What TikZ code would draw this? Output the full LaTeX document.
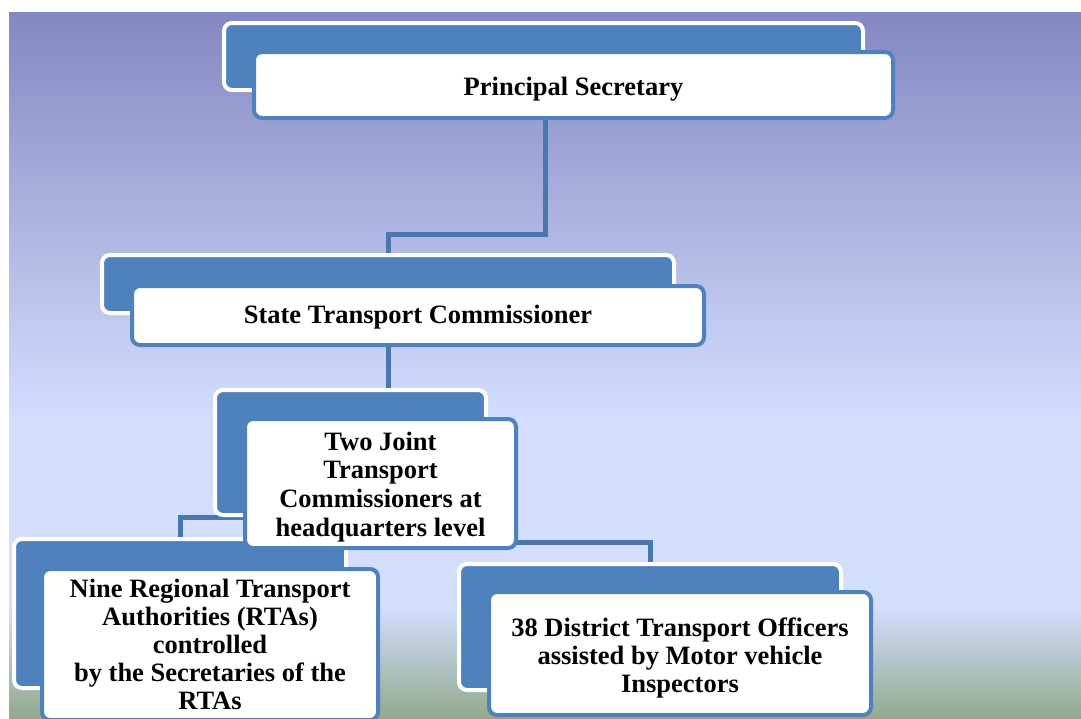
\documentclass[tikz,border=0pt]{standalone}
\usepackage{fontspec}
\setmainfont{Liberation Serif}
\definecolor{bgT}{RGB}{133,135,194}
\definecolor{bgL}{RGB}{211,222,253}
\definecolor{bgB}{RGB}{147,169,142}
\definecolor{boxblue}{RGB}{79,129,189}
\definecolor{conn}{RGB}{74,119,174}
\pgfdeclareverticalshading{bgshade}{100bp}{color(0bp)=(bgB); color(25bp)=(bgB); color(32.9bp)=(bgL); color(46.1bp)=(bgL); color(75bp)=(bgT); color(100bp)=(bgT)}
\pgfdeclarelayer{bglayer}
\pgfdeclarelayer{connlayer}
\pgfsetlayers{bglayer,connlayer,main}
\tikzset{
  backbox/.style={fill=boxblue, draw=white, line width=4pt, rounded corners=8pt, inner sep=0pt},
  frontbox/.style={fill=white, draw=boxblue, line width=4pt, rounded corners=8pt, inner sep=0pt},
  boxtext/.style={inner sep=0pt, align=center, font=\fontsize{26.5}{28}\selectfont\bfseries},
  connector/.style={draw=conn, line width=5pt}
}
\begin{document}
\begin{tikzpicture}[x=1pt,y=-1pt]
\useasboundingbox (0,0) rectangle (1081,718);
\begin{pgfonlayer}{bglayer}
\shade[shading=bgshade] (9,12) rectangle (1081,718);
\end{pgfonlayer}
% back boxes
\node[backbox, minimum width=639pt, minimum height=67pt] (b1back) at (543.5,56.5) {};
\node[backbox, minimum width=572pt, minimum height=58pt] (b2back) at (388,284) {};
\node[backbox, minimum width=271pt, minimum height=125pt] (b3back) at (350.5,452.5) {};
\node[backbox, minimum width=332pt, minimum height=149pt] (b4back) at (180,613.5) {};
\node[backbox, minimum width=382pt, minimum height=126pt] (b5back) at (650,627) {};
% front boxes
\node[frontbox, minimum width=639pt, minimum height=66pt] (b1) at (573.5,85) {};
\node[frontbox, minimum width=572pt, minimum height=59pt] (b2) at (418,315.5) {};
\node[frontbox, minimum width=271pt, minimum height=129pt] (b3) at (380.5,483.5) {};
\node[frontbox, minimum width=336pt, minimum height=151pt] (b4) at (210,644.5) {};
\node[frontbox, minimum width=382pt, minimum height=123pt] (b5) at (680,653.5) {};
% texts
\node[boxtext] (t1) at ([yshift=-4pt]b1.center) {Principal Secretary};
\node[boxtext] (t2) at ([yshift=-2pt]b2.center) {State Transport Commissioner};
\node[boxtext, font=\fontsize{26.5}{28.7}\selectfont\bfseries] (t3) at ([yshift=-3.3pt]b3.center) {Two Joint\\Transport\\Commissioners at\\headquarters level};
\node[boxtext] (t4) at (b4.center) {Nine Regional Transport\\Authorities (RTAs)\\controlled\\by the Secretaries of the\\RTAs};
\node[boxtext] (t5) at ([yshift=-4pt]b5.center) {38 District Transport Officers\\assisted by Motor vehicle\\Inspectors};
% connectors
\begin{pgfonlayer}{connlayer}
\draw[connector] ([xshift=1.5pt]b1back.south) -- ++(0,142) -| (b2back.north);
\draw[connector] (b2back.south) -- (b2back.south |- b3back.north);
\draw[connector] (b3back.south) -| (b4back.north);
\draw[connector] (b3back.south) -- ++(0,25) -| (b5back.north);
\end{pgfonlayer}
\end{tikzpicture}
\end{document}
